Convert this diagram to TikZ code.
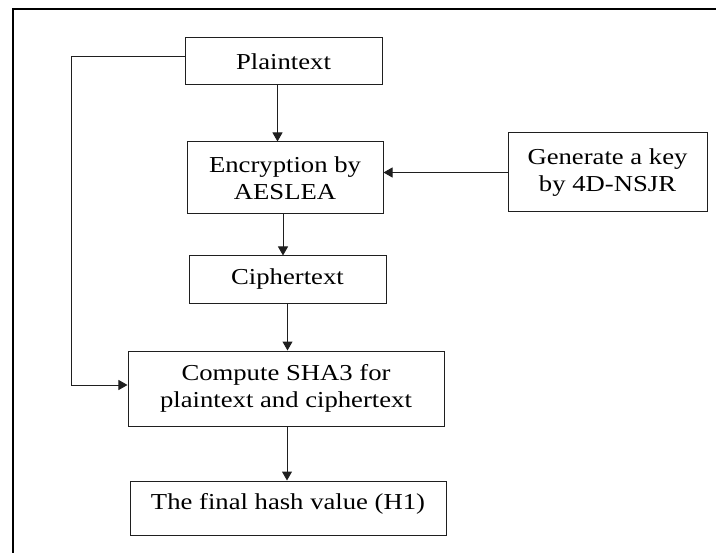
\documentclass[tikz,border=0pt]{standalone}
\usepackage{fontspec}
\setmainfont[FakeStretch=1.17]{Liberation Serif}
\usetikzlibrary{arrows.meta,positioning}
\definecolor{FlowLine}{HTML}{1F1F1F}

\begin{document}
\begin{tikzpicture}[x=1bp,y=-1bp,line cap=butt,line join=miter,
    block/.style={draw=FlowLine,line width=1bp,inner sep=0pt,align=center,
      font=\fontsize{22.8bp}{26.7bp}\selectfont},
    flow/.style={draw=FlowLine,line width=1bp,-{Triangle[length=9bp,width=10bp]}}]
  \useasboundingbox (0,0) rectangle (716,553);
  % outer frame (top and left edges only)
  \draw[line width=2.4bp] (13,553) -- (13,9) -- (716,9);

  % blocks
  \node[block,minimum width=197bp,minimum height=47bp] (plain) at (283.5,61.5) {Plaintext};
  \node[block,minimum width=196bp,minimum height=72bp] (enc) at (285,178) {Encryption by\\AESLEA};
  \node[block,minimum width=199bp,minimum height=79bp] (key) at (607.5,172.5) {Generate a key\\by 4D-NSJR};
  \node[block,minimum width=197bp,minimum height=47bp] (cipher) at (287.5,279.5) {Ciphertext};
  \node[block,minimum width=316bp,minimum height=75bp] (sha) at (286,388.5) {Compute SHA3 for\\plaintext and ciphertext};
  \node[block,minimum width=316bp,minimum height=54bp,text depth=14bp] (final) at (288,508) {The final hash value (H1)};

  % connectors
  \draw[flow] ([xshift=-6bp]plain.south) -- ([xshift=-6bp]plain.south |- enc.north);
  \draw[flow] ([xshift=-2bp]enc.south) -- ([xshift=-2bp]enc.south |- cipher.north);
  \draw[flow] (cipher.south) -- (cipher.south |- sha.north);
  \draw[flow] ([xshift=1bp]sha.south) -- ([xshift=1bp]sha.south |- final.north);
  \draw[flow] (key.west) -- (key.west -| enc.east);
  \draw[flow] ([yshift=4.5bp]plain.west) -- ++(-113,0) |- ([yshift=3.5bp]sha.west);
\end{tikzpicture}
\end{document}
